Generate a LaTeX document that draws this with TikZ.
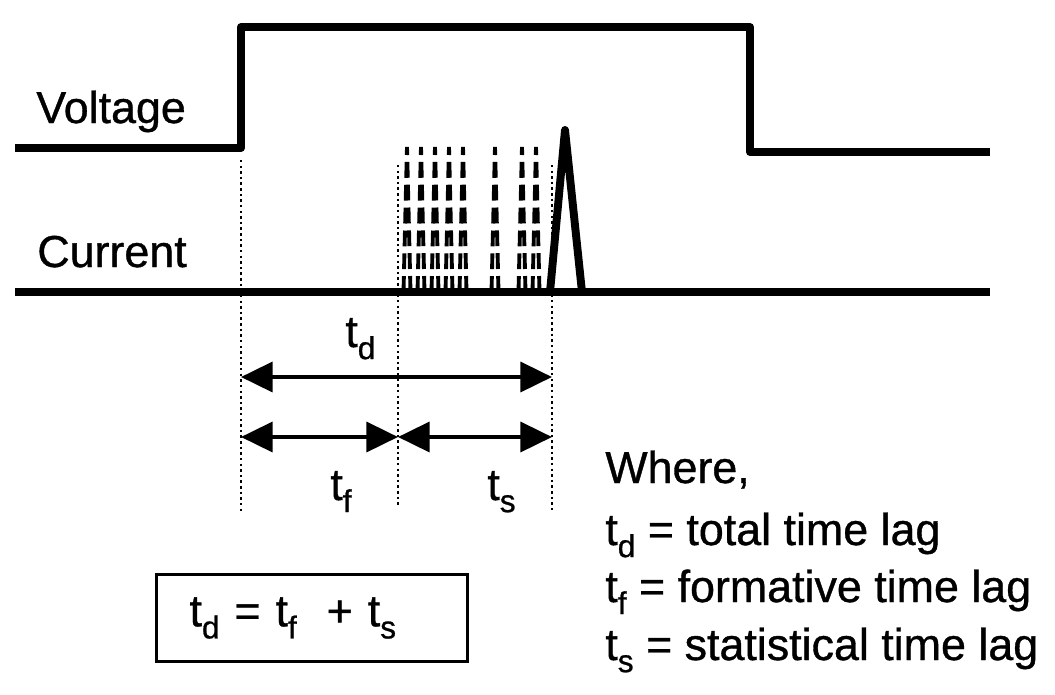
\documentclass[tikz,border=0pt]{standalone}
\usepackage{fontspec}
\setmainfont{Liberation Sans}[FakeBold=0.8]
\usetikzlibrary{arrows.meta}

\newcommand{\tsub}[1]{t\raisebox{-0.27em}{\fontsize{18}{20}\selectfont #1}}

\tikzset{
  signal/.style={line width=4.5pt, line join=round},
  pulse/.style={line width=2.2pt, dash pattern=on 9pt off 4pt},
  marker/.style={line width=1.6pt, dash pattern=on 1.4pt off 1.8pt},
  span/.style={line width=2.3pt,
    {Triangle[length=18pt,width=17pt]}-{Triangle[length=18pt,width=17pt]}},
  txt/.style={anchor=base west, inner sep=0pt},
  eqbox/.style={draw, line width=1.2pt, inner xsep=0.66cm, text width=4.9cm,
    minimum height=1.74cm, align=left}
}

\begin{document}
\begin{tikzpicture}[x=0.02cm, y=-0.02cm, font=\fontsize{25.5}{30}\selectfont]

  \useasboundingbox (0,0) rectangle (1055,694);

  % Define time marks
  \coordinate (T0) at (241,0);
  \coordinate (T1) at (398,0);
  \coordinate (T2) at (552,0);

  % Voltage step
  \draw[signal] (15,148) -- (241,148) -- (241,27) -- (750,27)
    -- (750,152) -- (990,152);

  % Current baseline and breakdown pulse
  \draw[signal] (15,292) -- (990,292);
  \draw[signal] (550,292) -- (565,130) -- (582,292);

  % Scatter of possible breakdown instants
  \foreach \c in {407,421,435,449,463,495,522,536}
    \draw[pulse] ({\c-3.5},292) -- (\c,147) -- ({\c+3.5},292);

  % Dotted time marks
  \draw[marker] (241,160) -- (241,512);
  \draw[marker] (398,165) -- (398,505);
  \draw[marker] (552,165) -- (552,512);

  % Time lag arrows
  \coordinate (a0) at (241,377);
  \coordinate (a2) at (552,377);
  \coordinate (b0) at (241,437);
  \coordinate (b1) at (398,437);
  \coordinate (b2) at (552,437);
  \draw[span] (a0) -- (a2);
  \draw[span] (b0) -- (b1);
  \draw[span] (b1) -- (b2);

  % Labels
  \node[txt] (volt) at (36,123) {Voltage};
  \node[txt] (curr) at (37,267) {Current};
  \node[txt] (td) at (345,347) {\tsub{d}};
  \node[txt] (tf) at (330,500) {\tsub{f}};
  \node[txt] (ts) at (487,500) {\tsub{s}};

  % Relation
  \node[eqbox] (eq) at (312,618) {\tsub{d} = \tsub{f}\ \ + \tsub{s}};

  % Legend
  \node[txt] (where) at (605,483) {Where,};
  \node[txt] (ltd) at (605,545) {\tsub{d} = total time lag};
  \node[txt] (ltf) at (605,602) {\tsub{f} = formative time lag};
  \node[txt] (lts) at (605,660) {\tsub{s} = statistical time lag};

\end{tikzpicture}
\end{document}
